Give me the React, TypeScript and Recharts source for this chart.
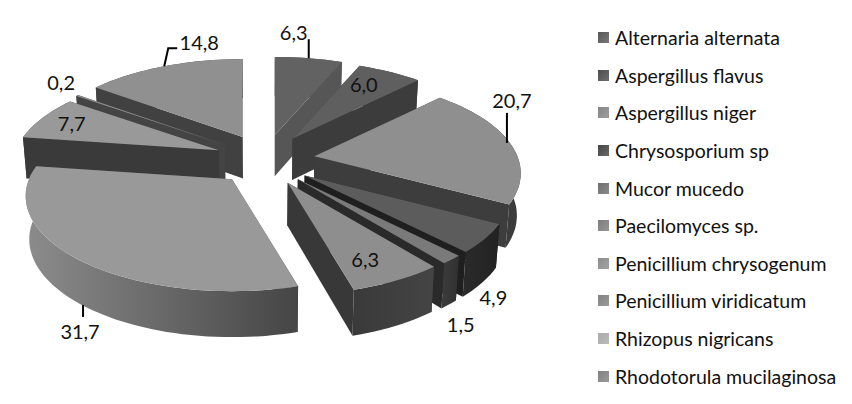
import { PieChart, Pie, Legend } from "recharts";

const categories = [
  "Alternaria alternata",
  "Aspergillus flavus",
  "Aspergillus niger",
  "Chrysosporium sp",
  "Mucor mucedo",
  "Paecilomyces sp.",
  "Penicillium chrysogenum",
  "Penicillium viridicatum",
  "Rhizopus nigricans",
  "Rhodotorula mucilaginosa",
];
const values = [6.3, 6.0, 20.7, 4.9, 1.5, 6.3, 31.7, 7.7, 0.2, 14.8];

const topFills = ["#626262", "#5f5f5f", "#8f8f8f", "#5c5c5c", "#7a7a7a", "#8e8e8e", "#999999", "#999999", "#8c8c8c", "#909090"];
const edgeFills = ["#565656", "#3c3c3c", "#3d3d3d", "#1f1f1f", "#2a2a2a", "#383838", "#555555", "#3a3a3a", "#444444", "#414141"];
const wallFrom = ["#565656", "#444444", "#3a3a3a", "#2a2a2a", "#3a3a3a", "#3a3a3a", "#8c8c8c", "#4a4a4a", "#444444", "#444444"];
const wallTo = ["#565656", "#444444", "#3c3c3c", "#222222", "#303030", "#444444", "#454545", "#3a3a3a", "#444444", "#444444"];
const legendFills = ["#565656", "#4c4c4c", "#858585", "#444444", "#6e6e6e", "#7d7d7d", "#8c8c8c", "#828282", "#aaaaaa", "#808080"];

// painter's order, back of the pie first
const zOrder = [0, 9, 1, 8, 7, 2, 3, 4, 6, 5];

// offsets from the middle of each slice's rim
const labelOffsets = [[-15, -26], [-26, 12], [2, -43], [8, 59], [9, 64], [-32, -21], [3, 72], [29, 5], [-16, -13], [35, -24]];
const leaderOffsets: number[][][] = [
  [[0, 0], [0, -19]],
  [],
  [[-3, 0], [-3, -30]],
  [],
  [],
  [],
  [[6, 46], [6, 58]],
  [],
  [],
  [[0, 0], [4, -18], [13, -18]],
];

const CX = 265;
const CY = 160;
const RADIUS = 203;
const SQUASH = 0.453;
const PERSPECTIVE = 0.179;
const EXPLODE_X = 0.246;
const EXPLODE_Y = 0.126;

const data = categories.map((name, i) => ({ name, value: values[i] }));

type Pt = [number, number];

const apexOf = (cx: number, cy: number, r: number, midDeg: number): Pt => {
  const a = ((90 - midDeg) * Math.PI) / 180;
  return [cx + r * EXPLODE_X * Math.sin(a), cy - r * EXPLODE_Y * Math.cos(a)];
};

const rimOf = (apex: Pt, r: number, deg: number): Pt => {
  const a = ((90 - deg) * Math.PI) / 180;
  const s = 1 / (1 + PERSPECTIVE * Math.cos(a));
  return [apex[0] + r * Math.sin(a) * s, apex[1] - r * SQUASH * Math.cos(a) * s];
};

// the underside is a little smaller and deeper towards the viewer
const lower = (p: Pt, cx: number, cy: number): Pt => [cx + (p[0] - cx) * 0.985, p[1] + 42 + (p[1] - cy) * 0.03];

const toPath = (pts: Pt[]) => "M" + pts.map((p) => `${p[0].toFixed(1)},${p[1].toFixed(1)}`).join("L") + "Z";

function Slice3D(props: any) {
  const { cx, cy, outerRadius: r, startAngle, endAngle, index } = props;
  const apex = apexOf(cx, cy, r, (startAngle + endAngle) / 2);
  const steps = Math.max(2, Math.ceil(Math.abs(endAngle - startAngle) / 2));
  const rim: Pt[] = [];
  for (let k = 0; k <= steps; k++) {
    rim.push(rimOf(apex, r, startAngle + ((endAngle - startAngle) * k) / steps));
  }
  const low = (p: Pt) => lower(p, cx, cy);
  const first = rim[0];
  const last = rim[rim.length - 1];
  const gradId = `wall-${index}`;
  const xs = rim.map((p) => p[0]);
  const mid = (((90 - (startAngle + endAngle) / 2) * Math.PI) / 180);
  const outer = <path d={toPath([...rim, ...rim.map(low).reverse()])} fill={`url(#${gradId})`} />;
  const edges = (
    <>
      <path d={toPath([apex, first, low(first), low(apex)])} fill={edgeFills[index]} />
      <path d={toPath([apex, last, low(last), low(apex)])} fill={edgeFills[index]} />
    </>
  );
  const backFacing = Math.cos(mid) > 0;
  return (
    <g>
      <defs>
        <linearGradient id={gradId} gradientUnits="userSpaceOnUse" x1={Math.min(...xs)} x2={Math.max(...xs)} y1={0} y2={0}>
          <stop offset="0%" stopColor={wallFrom[index]} />
          <stop offset="100%" stopColor={wallTo[index]} />
        </linearGradient>
      </defs>
      {backFacing ? outer : edges}
      {backFacing ? edges : outer}
      <path d={toPath([apex, ...rim])} fill={topFills[index]} />
    </g>
  );
}

function SliceLabel(props: any) {
  const { cx, cy, outerRadius: r, midAngle, index } = props;
  const anchor = rimOf(apexOf(cx, cy, r, midAngle), r, midAngle);
  const [dx, dy] = labelOffsets[index];
  const leader = leaderOffsets[index];
  return (
    <g>
      {leader.length > 0 && (
        <polyline
          points={leader.map((p) => `${anchor[0] + p[0]},${anchor[1] + p[1]}`).join(" ")}
          fill="none"
          stroke="#000000"
          strokeWidth={2}
        />
      )}
      <text
        x={anchor[0] + dx}
        y={anchor[1] + dy}
        textAnchor="middle"
        dominantBaseline="central"
        fontFamily="Lato"
        fontSize={20}
        fill="#111111"
      >
        {values[index].toFixed(1).replace(".", ",")}
      </text>
    </g>
  );
}

function LegendList() {
  return (
    <div>
      {categories.map((name, i) => (
        <div key={name} style={{ display: "flex", alignItems: "center", height: 37.6 }}>
          <span
            style={{
              width: 11,
              height: 11,
              marginRight: 6,
              background: `linear-gradient(135deg, ${legendFills[i]}, ${legendFills[i]}cc)`,
            }}
          />
          <span style={{ fontFamily: "Lato", fontSize: 19.5, color: "#111111", whiteSpace: "nowrap" }}>{name}</span>
        </div>
      ))}
    </div>
  );
}

export default function App() {
  return (
    <div style={{ position: "absolute", left: 0, top: 0, background: "#ffffff" }}>
      <PieChart width={852} height={404} margin={{ top: 0, right: 0, bottom: 0, left: 0 }}>
        {zOrder.map((layer, i) => (
          <Pie
            key={layer}
            data={data}
            dataKey="value"
            nameKey="name"
            cx={CX}
            cy={CY}
            outerRadius={RADIUS}
            startAngle={90}
            endAngle={-270}
            stroke="none"
            isAnimationActive={false}
            shape={(p: any) => (p.index === layer ? <Slice3D {...p} /> : <g />)}
            label={i === zOrder.length - 1 ? SliceLabel : false}
            labelLine={false}
          />
        ))}
        <Legend
          layout="vertical"
          align="right"
          verticalAlign="top"
          content={<LegendList />}
          wrapperStyle={{ left: 598, top: 19, width: 254 }}
        />
      </PieChart>
    </div>
  );
}
